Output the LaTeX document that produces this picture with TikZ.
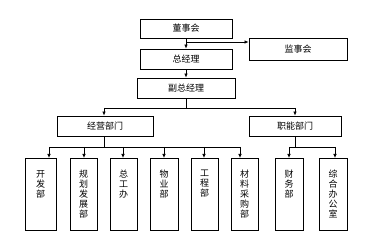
\documentclass[tikz,border=0pt]{standalone}
\usepackage{fontspec}
\newfontfamily\cjk{Noto Sans CJK SC}
\usetikzlibrary{arrows.meta}
\begin{document}
\begin{tikzpicture}[x=1pt, y=-1pt,
  every node/.style={font=\cjk\fontsize{9}{10}\selectfont},
  box/.style={draw, line width=0.8pt, inner sep=0pt},
  vbox/.style={box, minimum height=72pt, anchor=north},
  vtext/.style={anchor=north, align=center, inner sep=0pt, yshift=-12pt},
  arr/.style={-{Latex[length=4pt, width=3.5pt]}, line width=0.7pt},
  bus/.style={line width=0.7pt}]
  \useasboundingbox (0,0) rectangle (378,240);

  % top levels
  \node[box, minimum width=92pt, minimum height=19pt] (dsh) at (186,28.5) {董事会};
  \node[box, minimum width=98pt, minimum height=22pt] (jsh) at (298,49) {监事会};
  \node[box, minimum width=92pt, minimum height=20pt] (zjl) at (186,59) {总经理};
  \node[box, minimum width=98pt, minimum height=20pt] (fzjl) at (186,88) {副总经理};
  \node[box, minimum width=96pt, minimum height=20pt] (jybm) at (105,126) {经营部门};
  \node[box, minimum width=92pt, minimum height=20pt] (znbm) at (295,126) {职能部门};

  % departments
  \node[vbox, minimum width=31pt, label={[vtext]north:开\\发\\部}] (kfb) at (40.5,158) {};
  \node[vbox, minimum width=27pt, label={[vtext]north:规\\划\\发\\展\\部}] (ghb) at (83.5,158) {};
  \node[vbox, minimum width=27pt, label={[vtext]north:总\\工\\办}] (zgb) at (123.5,158) {};
  \node[vbox, minimum width=28pt, label={[vtext]north:物\\业\\部}] (wyb) at (164,158) {};
  \node[vbox, minimum width=27pt, label={[vtext]north:工\\程\\部}] (gcb) at (204.5,158) {};
  \node[vbox, minimum width=27pt, label={[vtext]north:材\\料\\采\\购\\部}] (clb) at (244.5,158) {};
  \node[vbox, minimum width=28pt, label={[vtext]north:财\\务\\部}] (cwb) at (289,158) {};
  \node[vbox, minimum width=28pt, label={[vtext]north:综\\合\\办\\公\\室}] (zhb) at (333,158) {};

  % connectors
  \coordinate (j1) at (186,42);
  \draw[arr] (dsh) -- (zjl);
  \draw[arr] (j1) -- (j1 -| jsh.west);
  \draw[arr] (zjl) -- (fzjl);

  \coordinate (b1) at (186,108);
  \coordinate (b1l) at (104,108);
  \coordinate (b1r) at (295,108);
  \draw[bus] (fzjl.south) -- (b1);
  \draw[bus] (b1l) -- (b1r);
  \draw[arr] (b1l) -- (b1l |- jybm.north);
  \draw[arr] (b1r) -- (znbm.north);

  \coordinate (b2) at (104,147);
  \draw[bus] (b2 |- jybm.south) -- (b2);
  \draw[bus] (49,147) -- (240,147);
  \foreach \xx/\nn in {49/kfb, 84/ghb, 123/zgb, 164/wyb, 204/gcb, 240/clb}
    \draw[arr] (\xx,147) -- (\xx,147 |- \nn.north);

  \coordinate (b3) at (295,147);
  \draw[bus] (znbm.south) -- (b3);
  \draw[bus] (289,147) -- (335,147);
  \draw[arr] (289,147) -- (289,147 |- cwb.north);
  \draw[arr] (335,147) -- (335,147 |- zhb.north);
\end{tikzpicture}
\end{document}
